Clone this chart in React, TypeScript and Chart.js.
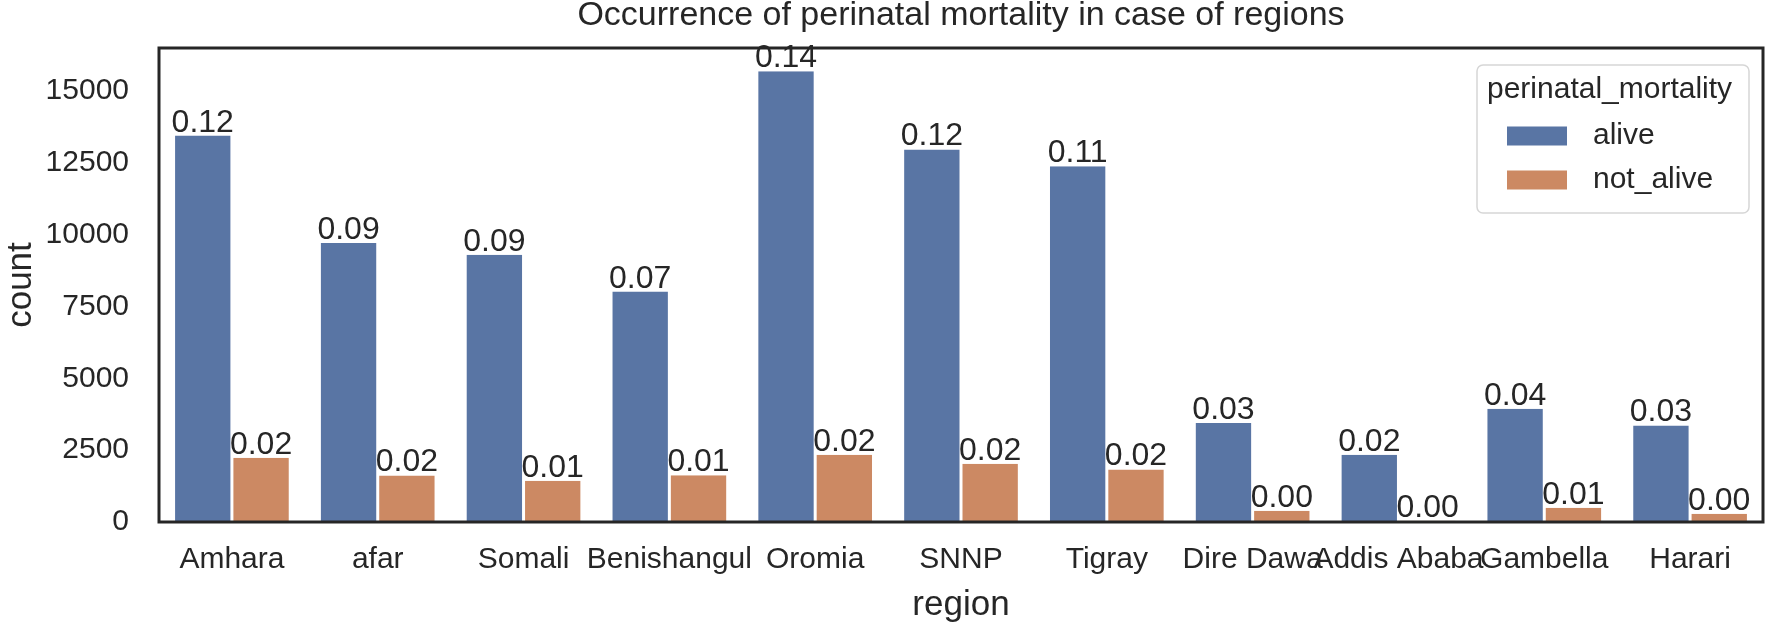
import React, { useEffect, useRef } from "react";
import { Chart, registerables } from "chart.js";

Chart.register(...registerables);

const TITLE = "Occurrence of perinatal mortality in case of regions";
const X_TITLE = "region";
const Y_TITLE = "count";
const LEGEND_TITLE = "perinatal_mortality";
const SERIES = ["alive", "not_alive"];
const REGIONS = ["Amhara", "afar", "Somali", "Benishangul", "Oromia", "SNNP", "Tigray", "Dire Dawa", "Addis Ababa", "Gambella", "Harari"];
const ALIVE = [13450, 9710, 9300, 8020, 15690, 12970, 12380, 3450, 2340, 3940, 3360];
const NOT_ALIVE = [2240, 1620, 1440, 1630, 2340, 2030, 1830, 390, 40, 500, 290];
const ALIVE_LABELS = ["0.12", "0.09", "0.09", "0.07", "0.14", "0.12", "0.11", "0.03", "0.02", "0.04", "0.03"];
const NOT_ALIVE_LABELS = ["0.02", "0.02", "0.01", "0.01", "0.02", "0.02", "0.02", "0.00", "0.00", "0.01", "0.00"];
const Y_TICKS = [0, 2500, 5000, 7500, 10000, 12500, 15000];
const Y_MAX = 16500;
const COLORS = ["#5975a4", "#cc8963"];

const FONT = '"Liberation Sans", Arial, Helvetica, sans-serif';
const INK = "#262626";

const decoPlugin = {
  id: "deco",
  afterDatasetsDraw(chart: any) {
    const { ctx, chartArea: a } = chart;
    ctx.save();
    // frame
    ctx.strokeStyle = INK;
    ctx.lineWidth = 3;
    ctx.strokeRect(a.left, a.top, a.right - a.left, a.bottom - a.top);

    // bar labels
    const lbls = [ALIVE_LABELS, NOT_ALIVE_LABELS];
    ctx.font = `32px ${FONT}`;
    ctx.fillStyle = INK;
    ctx.textAlign = "center";
    ctx.textBaseline = "alphabetic";
    chart.data.datasets.forEach((_ds: any, di: number) => {
      chart.getDatasetMeta(di).data.forEach((bar: any, i: number) => {
        ctx.fillText(lbls[di][i], bar.x, bar.y - 4);
      });
    });

    // title centered over the plot
    ctx.font = `34px ${FONT}`;
    ctx.textBaseline = "middle";
    ctx.fillText(TITLE, (a.left + a.right) / 2, 16);

    // legend
    const bw = 272, bh = 148;
    const bx = a.right - 14 - bw;
    const by = a.top + 17;
    ctx.beginPath();
    if ((ctx as any).roundRect) {
      (ctx as any).roundRect(bx, by, bw, bh, 6);
    } else {
      ctx.rect(bx, by, bw, bh);
    }
    ctx.fillStyle = "rgba(255,255,255,0.85)";
    ctx.fill();
    ctx.strokeStyle = "#d6d6d6";
    ctx.lineWidth = 1.5;
    ctx.stroke();

    ctx.fillStyle = INK;
    ctx.textAlign = "left";
    ctx.textBaseline = "middle";
    ctx.font = `30px ${FONT}`;
    ctx.fillText(LEGEND_TITLE, bx + 10, by + 25);
    const rows = [by + 71, by + 115];
    SERIES.forEach((name, i) => {
      ctx.fillStyle = COLORS[i];
      ctx.fillRect(bx + 30, rows[i] - 9.5, 60, 19);
      ctx.fillStyle = INK;
      ctx.fillText(name, bx + 116, rows[i]);
    });
    ctx.restore();
  },
};

export default function App() {
  const ref = useRef<HTMLCanvasElement | null>(null);

  useEffect(() => {
    document.body.style.margin = "0";
    if (!ref.current) return;
    const barBorder = { top: 0, left: 1.5, right: 1.5, bottom: 0 };
    const chart = new Chart(ref.current, {
      type: "bar",
      data: {
        labels: REGIONS,
        datasets: [
          {
            label: SERIES[0],
            data: ALIVE,
            backgroundColor: COLORS[0],
            borderColor: "#ffffff",
            borderWidth: barBorder,
            categoryPercentage: 0.8,
            barPercentage: 1.0,
          },
          {
            label: SERIES[1],
            data: NOT_ALIVE,
            backgroundColor: COLORS[1],
            borderColor: "#ffffff",
            borderWidth: barBorder,
            categoryPercentage: 0.8,
            barPercentage: 1.0,
          },
        ],
      },
      options: {
        animation: false,
        responsive: true,
        maintainAspectRatio: false,
        layout: { padding: { top: 45, right: 7, left: 0, bottom: 0 } },
        plugins: {
          legend: { display: false },
          title: { display: false },
          tooltip: { enabled: false },
        },
        scales: {
          x: {
            type: "category",
            offset: true,
            grid: { display: false, drawTicks: false },
            border: { display: false },
            ticks: {
              color: INK,
              font: { family: FONT, size: 30 },
              padding: 20,
              autoSkip: false,
              maxRotation: 0,
              minRotation: 0,
            },
            title: {
              display: true,
              text: X_TITLE,
              color: INK,
              font: { family: FONT, size: 35, lineHeight: 1.0 },
              padding: { top: 0, bottom: 2 },
            },
            afterFit: (s: any) => {
              s.height = 103;
            },
          },
          y: {
            min: 0,
            max: Y_MAX,
            grid: { display: false, drawTicks: false },
            border: { display: false },
            afterBuildTicks: (s: any) => {
              s.ticks = Y_TICKS.map((v) => ({ value: v }));
            },
            ticks: {
              color: INK,
              font: { family: FONT, size: 30 },
              padding: 30,
              callback: (v: any) => String(v),
            },
            title: {
              display: true,
              text: Y_TITLE,
              color: INK,
              font: { family: FONT, size: 35 },
              padding: { top: 0, bottom: 0 },
            },
            afterFit: (s: any) => {
              s.width = 159;
            },
          },
        },
      },
      plugins: [decoPlugin],
    } as any);
    return () => chart.destroy();
  }, []);

  return (
    <div style={{ width: 1770, height: 625, position: "relative" }}>
      <canvas ref={ref} />
    </div>
  );
}
